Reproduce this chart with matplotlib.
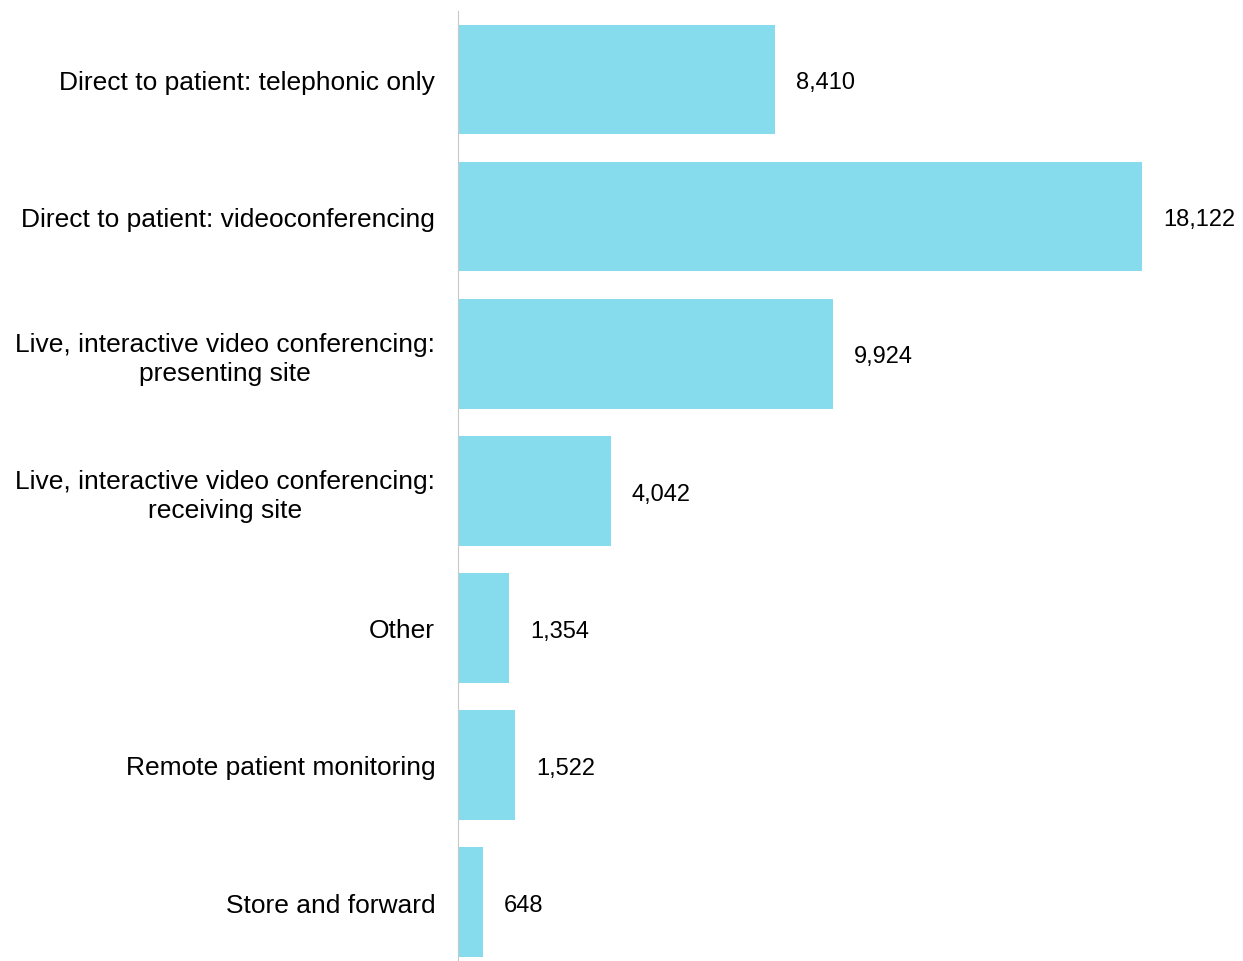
import matplotlib.pyplot as plt

categories = ["Direct to patient: telephonic only",
              "Direct to patient: videoconferencing",
              "Live, interactive video conferencing:\npresenting site",
              "Live, interactive video conferencing:\nreceiving site",
              "Other",
              "Remote patient monitoring",
              "Store and forward"]
values = [8410, 18122, 9924, 4042, 1354, 1522, 648]

plt.rcParams['font.family'] = ['Liberation Sans', 'DejaVu Sans']

fig = plt.figure(figsize=(12.43, 9.62), dpi=100)
ax = fig.add_axes([0.3685, 0.0, 0.6, 0.9875])

ypos = range(len(values))
ax.barh(ypos, values, height=0.8, color="#86dcec")
for y, v in zip(ypos, values):
    ax.text(v + 550, y + 0.02, f"{v:,}", va="center", ha="left", fontsize=17)

ax.set_yticks(list(ypos))
ax.set_yticklabels(categories, fontsize=19, ha="right", multialignment="center",
                   linespacing=1.25)
ax.tick_params(axis="y", length=0, pad=16.5)
ax.set_xticks([])
ax.set_xlim(0, 18122 / (1142 - 458) * (0.6 * 1243))
ax.set_ylim(6.43, -0.5)
for s in ["top", "right", "bottom"]:
    ax.spines[s].set_visible(False)
ax.spines["left"].set_color("#c8c8c8")

fig.savefig("out.png", dpi=100)
